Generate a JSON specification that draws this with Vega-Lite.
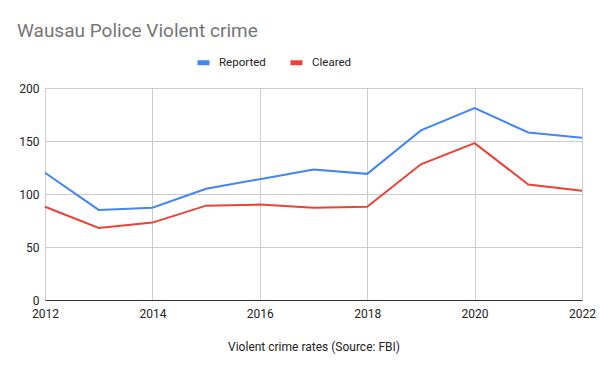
{
  "$schema": "https://vega.github.io/schema/vega-lite/v6.json",
  "width": 537,
  "height": 212,
  "autosize": {"type": "none"},
  "padding": {"left": 45, "top": 88, "right": 18, "bottom": 71},
  "background": "white",
  "title": {
    "text": "Wausau Police Violent crime",
    "anchor": "start",
    "frame": "group",
    "font": "Roboto",
    "fontSize": 19,
    "fontWeight": "normal",
    "color": "#757575",
    "dx": -28,
    "offset": 13
  },
  "data": {
    "values": [
      {"year": 2012, "series": "Reported", "value": 120},
      {"year": 2013, "series": "Reported", "value": 85},
      {"year": 2014, "series": "Reported", "value": 87},
      {"year": 2015, "series": "Reported", "value": 105},
      {"year": 2016, "series": "Reported", "value": 114},
      {"year": 2017, "series": "Reported", "value": 123},
      {"year": 2018, "series": "Reported", "value": 119},
      {"year": 2019, "series": "Reported", "value": 160},
      {"year": 2020, "series": "Reported", "value": 181},
      {"year": 2021, "series": "Reported", "value": 158},
      {"year": 2022, "series": "Reported", "value": 153},
      {"year": 2012, "series": "Cleared", "value": 88},
      {"year": 2013, "series": "Cleared", "value": 68},
      {"year": 2014, "series": "Cleared", "value": 73},
      {"year": 2015, "series": "Cleared", "value": 89},
      {"year": 2016, "series": "Cleared", "value": 90},
      {"year": 2017, "series": "Cleared", "value": 87},
      {"year": 2018, "series": "Cleared", "value": 88},
      {"year": 2019, "series": "Cleared", "value": 128},
      {"year": 2020, "series": "Cleared", "value": 148},
      {"year": 2021, "series": "Cleared", "value": 109},
      {"year": 2022, "series": "Cleared", "value": 103}
    ]
  },
  "mark": {"type": "line", "strokeWidth": 2},
  "encoding": {
    "x": {
      "field": "year",
      "type": "quantitative",
      "scale": {"domain": [2012, 2022], "nice": false, "zero": false},
      "axis": {
        "values": [2012, 2014, 2016, 2018, 2020, 2022],
        "format": "d",
        "title": "Violent crime rates (Source: FBI)",
        "titleFont": "Roboto",
        "titleFontSize": 12,
        "titleFontWeight": "normal",
        "titleColor": "#222222",
        "titlePadding": 22,
        "labelFont": "Roboto",
        "labelFontSize": 12,
        "labelColor": "#222222",
        "labelPadding": 8,
        "ticks": false,
        "domainColor": "#333333",
        "gridColor": "#cccccc",
        "labelFlush": false
      }
    },
    "y": {
      "field": "value",
      "type": "quantitative",
      "scale": {"domain": [0, 200]},
      "axis": {
        "values": [0, 50, 100, 150, 200],
        "title": null,
        "labelFont": "Roboto",
        "labelFontSize": 12,
        "labelColor": "#222222",
        "labelPadding": 6,
        "ticks": false,
        "domain": false,
        "gridColor": "#cccccc"
      }
    },
    "color": {
      "field": "series",
      "type": "nominal",
      "sort": ["Reported", "Cleared"],
      "scale": {"domain": ["Reported", "Cleared"], "range": ["#4285F4", "#EA4335"]},
      "legend": {
        "title": null,
        "orient": "none",
        "legendX": 150,
        "legendY": -34,
        "direction": "horizontal",
        "labelFont": "Roboto",
        "labelFontSize": 11.5,
        "labelColor": "#222222",
        "symbolType": "stroke",
        "symbolSize": 144,
        "symbolStrokeWidth": 5,
        "labelOffset": 7,
        "columnPadding": 14
      }
    }
  },
  "config": {
    "view": {"stroke": null}
  }
}
